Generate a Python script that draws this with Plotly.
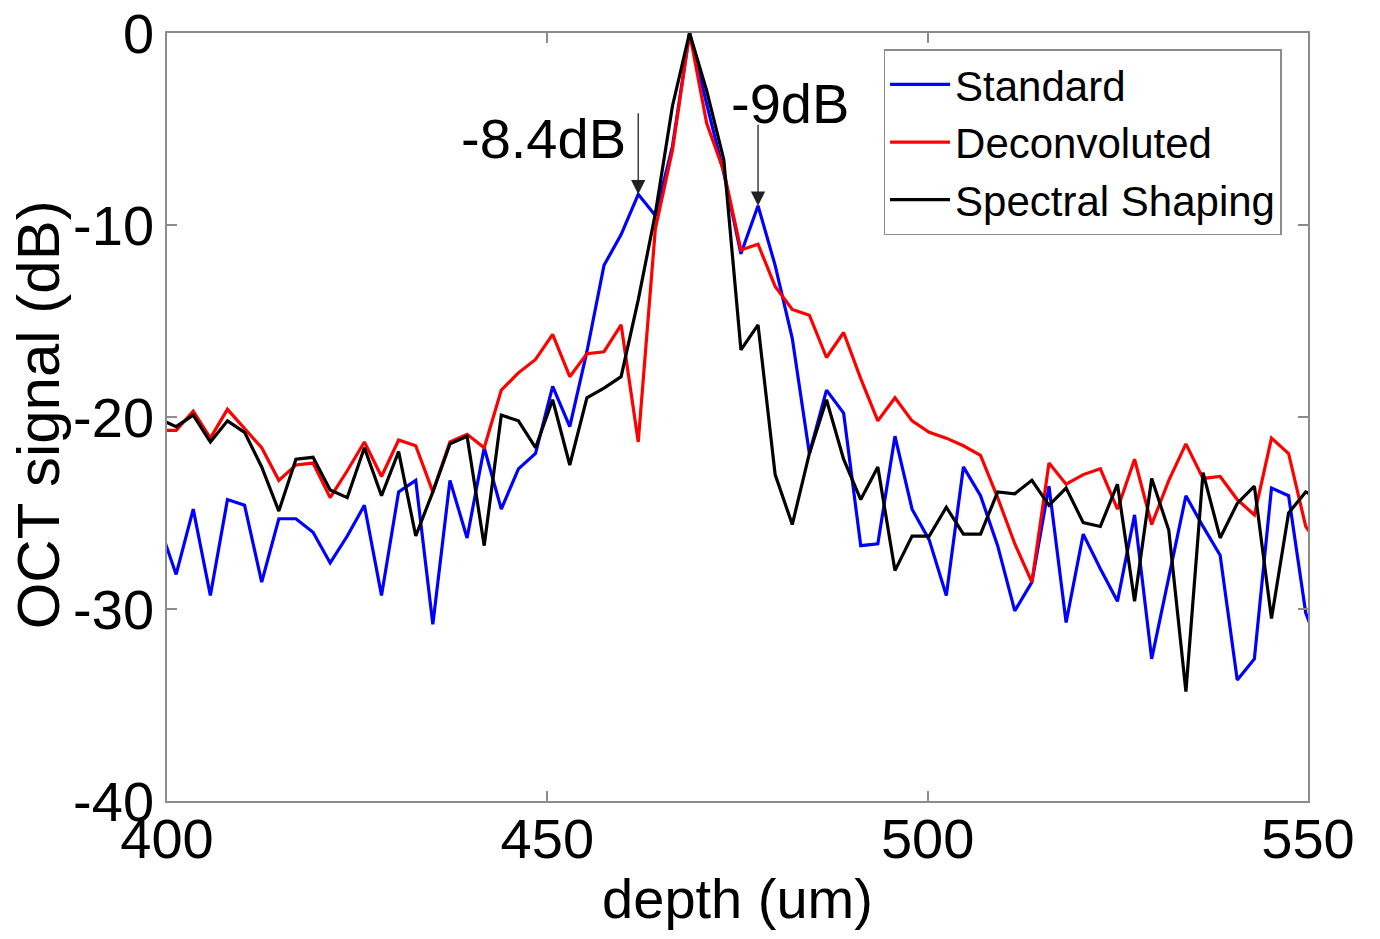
import plotly.graph_objects as go

# Depth samples (um)
depth = [398.95, 401.2, 403.45, 405.7, 407.95, 410.2, 412.45, 414.7, 416.95, 419.2,
         421.45, 423.7, 425.95, 428.2, 430.45, 432.7, 434.95, 437.2, 439.45, 441.7,
         443.95, 446.2, 448.45, 450.7, 452.95, 455.2, 457.45, 459.7, 461.95, 464.2,
         466.45, 468.7, 470.95, 473.2, 475.45, 477.7, 479.95, 482.2, 484.45, 486.7,
         488.95, 491.2, 493.45, 495.7, 497.95, 500.2, 502.45, 504.7, 506.95, 509.2,
         511.45, 513.7, 515.95, 518.2, 520.45, 522.7, 524.95, 527.2, 529.45, 531.7,
         533.95, 536.2, 538.45, 540.7, 542.95, 545.2, 547.45, 549.7, 551.95]

# OCT signal (dB) for each processing method
standard = [-25.6, -28.2, -24.8, -29.3, -24.3, -24.6, -28.6, -25.3, -25.3, -26.0,
            -27.6, -26.2, -24.6, -29.3, -23.9, -23.3, -30.8, -23.3, -26.3, -21.6,
            -24.8, -22.7, -21.9, -18.4, -20.5, -16.6, -12.1, -10.5, -8.4, -9.5,
            -5.9, 0.0, -3.7, -7.3, -11.5, -9.0, -12.1, -15.9, -21.9, -18.6,
            -19.8, -26.7, -26.6, -21.0, -24.8, -26.4, -29.3, -22.6, -24.1, -26.7,
            -30.1, -28.6, -23.6, -30.7, -26.1, -27.9, -29.6, -25.1, -32.6, -28.3,
            -24.1, -25.7, -27.2, -33.7, -32.6, -23.7, -24.1, -30.2, -32.5]

deconvoluted = [-20.7, -20.7, -19.7, -21.1, -19.6, -20.6, -21.6, -23.3, -22.5, -22.4,
                -24.2, -22.8, -21.3, -23.1, -21.2, -21.5, -23.9, -21.3, -20.9, -21.6,
                -18.6, -17.7, -17.0, -15.7, -17.9, -16.7, -16.6, -15.2, -21.3, -10.2,
                -6.1, 0.0, -4.7, -7.2, -11.3, -11.0, -13.2, -14.4, -14.7, -16.9,
                -15.6, -18.0, -20.2, -19.0, -20.2, -20.8, -21.1, -21.5, -22.0, -24.2,
                -26.6, -28.6, -22.4, -23.5, -23.0, -22.7, -24.8, -22.2, -25.6, -23.3,
                -21.4, -23.2, -23.1, -24.3, -25.1, -21.1, -21.9, -25.7, -27.0]

spectral_shaping = [-20.1, -20.5, -19.9, -21.3, -20.2, -20.8, -22.6, -24.9, -22.2, -22.1,
                    -23.8, -24.2, -21.6, -24.1, -21.8, -26.2, -23.9, -21.4, -21.0, -26.7,
                    -19.9, -20.2, -21.6, -19.1, -22.5, -19.0, -18.5, -17.9, -13.9, -9.4,
                    -3.8, 0.0, -3.0, -6.6, -16.5, -15.2, -23.0, -25.6, -21.9, -19.1,
                    -22.2, -24.3, -22.6, -28.0, -26.2, -26.2, -24.7, -26.1, -26.1, -23.9,
                    -24.0, -23.3, -24.6, -23.7, -25.5, -25.7, -23.5, -29.6, -23.2, -25.9,
                    -34.3, -22.9, -26.3, -24.5, -23.6, -30.5, -25.0, -23.9, -24.3]

x_ticks = [400, 450, 500, 550]
y_ticks = [0, -10, -20, -30, -40]

# Side-lobe peaks marked with arrows (index into the depth grid)
left_lobe = 28
right_lobe = 35

FONT = "Arial, Liberation Sans, sans-serif"
AXIS_GREY = "#8c8c8c"

fig = go.Figure()
fig.add_trace(go.Scatter(x=depth, y=standard, mode="lines", name="Standard",
                         line=dict(color="#0000ff", width=3.2)))
fig.add_trace(go.Scatter(x=depth, y=deconvoluted, mode="lines", name="Deconvoluted",
                         line=dict(color="#ff0000", width=3.2)))
fig.add_trace(go.Scatter(x=depth, y=spectral_shaping, mode="lines", name="Spectral Shaping",
                         line=dict(color="#000000", width=3.2)))

axis_common = dict(
    showgrid=False, zeroline=False, showline=True, linecolor=AXIS_GREY, linewidth=1.5,
    mirror="ticks", ticks="inside", ticklen=10, tickwidth=1.5, tickcolor=AXIS_GREY,
    tickfont=dict(family=FONT, size=56, color="black"),
)

fig.update_xaxes(range=[400, 550], tickvals=x_ticks, ticktext=[str(v) for v in x_ticks],
                 ticklabelstandoff=-12,
                 title=dict(text="depth (um)", font=dict(family=FONT, size=56, color="black"),
                            standoff=10),
                 **axis_common)
fig.update_yaxes(range=[-40, 0], tickvals=y_ticks, ticktext=[str(v) for v in y_ticks],
                 **axis_common)

# Vertical axis label
fig.add_annotation(x=-0.1125, y=0.503, xref="paper", yref="paper", text="OCT signal (dB)",
                   textangle=-90, showarrow=False, xanchor="center", yanchor="middle",
                   font=dict(family=FONT, size=60, color="black"))

# Arrows pointing at the side lobes
for idx, tail in ((left_lobe, -4.1), (right_lobe, -4.7)):
    fig.add_annotation(x=depth[idx], y=standard[idx], ax=depth[idx], ay=tail,
                       xref="x", yref="y", axref="x", ayref="y", text="",
                       showarrow=True, arrowhead=2, arrowsize=2.2, arrowwidth=1.3,
                       arrowcolor="#222222", standoff=0)

fig.add_annotation(x=460.55, y=-5.5, xref="x", yref="y", text=f"{standard[left_lobe]:g}dB",
                   showarrow=False, xanchor="right", yanchor="middle",
                   font=dict(family=FONT, size=56, color="black"))
fig.add_annotation(x=481.85, y=-3.67, xref="x", yref="y", text=f"{standard[right_lobe]:g}dB",
                   showarrow=False, xanchor="center", yanchor="middle",
                   font=dict(family=FONT, size=56, color="black"))

fig.update_layout(
    width=1380, height=939,
    margin=dict(l=167, r=72, t=33, b=138, autoexpand=False),
    plot_bgcolor="white", paper_bgcolor="white",
    font=dict(family=FONT, color="black"),
    legend=dict(x=0.628, y=0.979, xanchor="left", yanchor="top",
                bgcolor="white", bordercolor=AXIS_GREY, borderwidth=1.5,
                font=dict(family=FONT, size=42, color="black"),
                itemwidth=60, tracegroupgap=0),
    showlegend=True,
)

fig.write_html("out.html")
